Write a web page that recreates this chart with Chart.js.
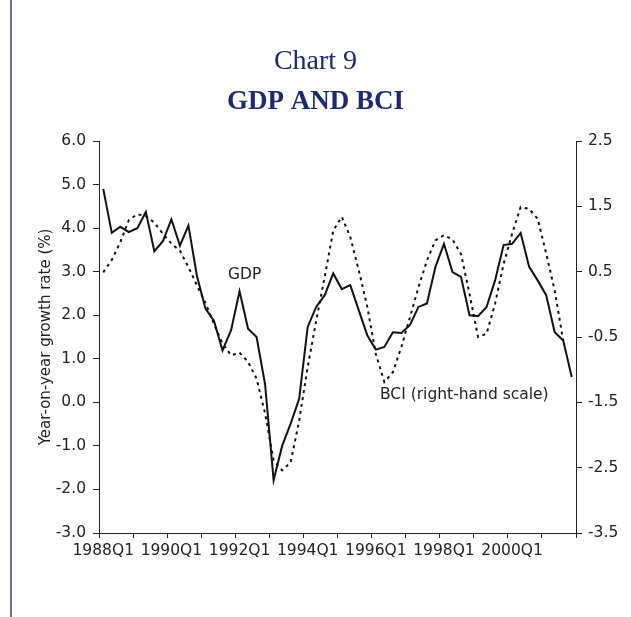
<!DOCTYPE html>
<html>
<head>
<meta charset="utf-8">
<script src="https://cdn.jsdelivr.net/npm/chart.js@4.4.1/dist/chart.umd.min.js"></script>
<style>
  html, body { margin: 0; padding: 0; background: #fff; }
  #chart { display: block; }
</style>
</head>
<body>
<canvas id="chart" width="631" height="617"></canvas>
<script>
// quarters 1988Q1 .. 2001Q4
var quarters = [];
for (var yr = 1988; yr <= 2001; yr++) {
  for (var q = 1; q <= 4; q++) quarters.push(yr + 'Q' + q);
}

var gdp = [4.9, 3.89, 4.03, 3.91, 4.0, 4.37, 3.47, 3.70, 4.20, 3.60, 4.06, 2.9,
  2.15, 1.87, 1.19, 1.65, 2.55, 1.69, 1.50, 0.41, -1.79, -1.0, -0.49, 0.08,
  1.73, 2.19, 2.46, 2.96, 2.60, 2.69, 2.11, 1.54, 1.21, 1.27, 1.61, 1.59,
  1.77, 2.19, 2.27, 3.11, 3.64, 2.99, 2.88, 2.0, 1.98, 2.19, 2.80, 3.61,
  3.64, 3.89, 3.11, 2.80, 2.46, 1.61, 1.42, 0.58];

var bci = [0.49, 0.68, 0.95, 1.29, 1.38, 1.35, 1.25, 1.08, 0.93, 0.82, 0.57, 0.29,
  0.02, -0.3, -0.6, -0.78, -0.74, -0.88, -1.14, -1.67, -2.39, -2.54, -2.42, -1.78,
  -0.96, -0.25, 0.42, 1.13, 1.34, 1.03, 0.52, -0.04, -0.76, -1.19, -1.04, -0.65,
  -0.2, 0.26, 0.67, 0.98, 1.06, 0.99, 0.77, 0.16, -0.5, -0.45, 0.01, 0.62,
  1.08, 1.49, 1.46, 1.31, 0.78, 0.21, -0.56, null];

var leftTicks = [-3, -2, -1, 0, 1, 2, 3, 4, 5, 6];
var rightTicks = [-3.5, -2.5, -1.5, -0.5, 0.5, 1.5, 2.5];

var axisColor = '#222';
var textFont = { family: 'DejaVu Sans', size: 15.5 };

var extras = {
  id: 'extras',
  beforeDraw: function (chart) {
    var c = chart.ctx;
    c.save();
    c.fillStyle = '#6b70ad';
    c.fillRect(10, 0, 2, chart.height);
    c.restore();
  },
  afterDatasetsDraw: function (chart) {
    var c = chart.ctx;
    c.save();
    c.fillStyle = axisColor;
    c.font = '15.5px "DejaVu Sans"';
    c.textBaseline = 'middle';
    c.textAlign = 'left';
    c.fillText('GDP', 228, 275);
    c.fillText('BCI (right-hand scale)', 380, 395);
    c.restore();
  }
};

var ctx = document.getElementById('chart').getContext('2d');
new Chart(ctx, {
  type: 'line',
  data: {
    labels: quarters,
    datasets: [{
      label: 'GDP',
      data: gdp,
      yAxisID: 'y',
      borderColor: '#111',
      borderWidth: 2,
      pointRadius: 0,
      tension: 0
    }, {
      label: 'BCI',
      data: bci,
      yAxisID: 'y1',
      borderColor: '#111',
      borderWidth: 2,
      borderDash: [3, 4],
      pointRadius: 0,
      tension: 0
    }]
  },
  options: {
    responsive: false,
    animation: false,
    devicePixelRatio: 1,
    layout: { padding: 0 },
    plugins: {
      legend: { display: false },
      tooltip: { enabled: false },
      title: {
        display: true,
        text: 'Chart 9',
        color: '#1f2970',
        font: { family: 'Liberation Serif', size: 28, weight: 'normal' },
        padding: { top: 45, bottom: 0 }
      },
      subtitle: {
        display: true,
        text: 'GDP AND BCI',
        color: '#1f2970',
        font: { family: 'Liberation Serif', size: 27, weight: 'bold' },
        padding: { top: 7, bottom: 23 }
      }
    },
    scales: {
      x: {
        offset: true,
        grid: {
          offset: true,
          drawOnChartArea: false,
          tickLength: 5,
          tickColor: function (c) {
            return (c.index === undefined || c.index % 4 === 0) ? axisColor : 'rgba(0,0,0,0)';
          }
        },
        border: { color: axisColor, width: 1 },
        ticks: {
          autoSkip: false,
          maxRotation: 0,
          minRotation: 0,
          padding: 4,
          color: axisColor,
          font: textFont,
          callback: function (v, i) { return i % 8 === 0 ? quarters[i] : ''; }
        },
        afterFit: function (s) { s.height = 84; }
      },
      y: {
        position: 'left',
        min: leftTicks[0],
        max: leftTicks[leftTicks.length - 1],
        afterBuildTicks: function (s) { s.ticks = leftTicks.map(function (v) { return { value: v }; }); },
        grid: { drawOnChartArea: false, tickLength: 6, tickColor: axisColor },
        border: { color: axisColor, width: 1 },
        ticks: {
          padding: 7,
          color: axisColor,
          font: textFont,
          callback: function (v) { return v.toFixed(1); }
        },
        title: {
          display: true,
          text: 'Year-on-year growth rate (%)',
          color: axisColor,
          font: { family: 'DejaVu Sans', size: 15 },
          padding: { top: 37, bottom: 0 }
        },
        afterFit: function (s) { s.width = 99; }
      },
      y1: {
        position: 'right',
        min: rightTicks[0],
        max: rightTicks[rightTicks.length - 1],
        afterBuildTicks: function (s) { s.ticks = rightTicks.map(function (v) { return { value: v }; }); },
        grid: { drawOnChartArea: false, tickLength: 6, tickColor: axisColor },
        border: { color: axisColor, width: 1 },
        ticks: {
          padding: 6,
          color: axisColor,
          font: textFont,
          callback: function (v) { return v.toFixed(1); }
        },
        afterFit: function (s) { s.width = 55; }
      }
    }
  },
  plugins: [extras]
});
</script>
</body>
</html>
